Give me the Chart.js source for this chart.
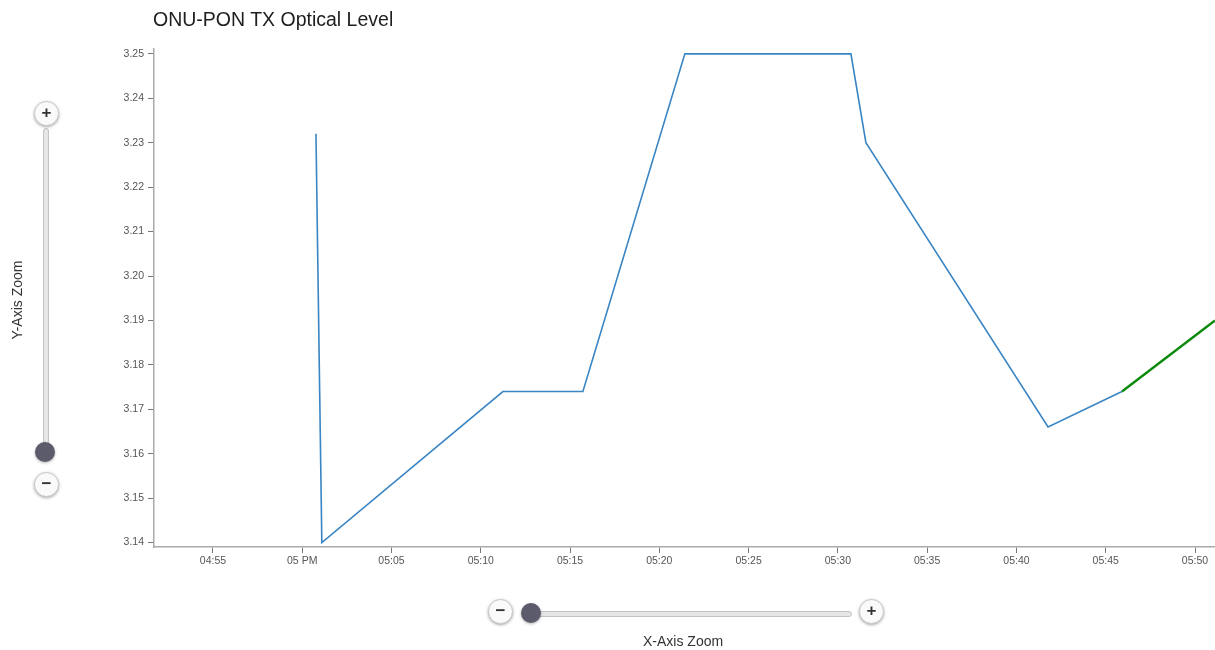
<!DOCTYPE html>
<html>
<head>
<meta charset="utf-8">
<script src="https://cdn.jsdelivr.net/npm/chart.js@4/dist/chart.umd.min.js"></script>
<style>
  body { margin: 0; background: #fff; font-family: "Liberation Sans", Arial, sans-serif; }
  #wrap { position: relative; width: 1215px; height: 650px; overflow: hidden; }
  #chart { position: absolute; left: 0; top: 0; }
  #title { position: absolute; left: 153px; top: 8px; font-size: 19.5px; color: #1e1e1e; }
  .btn { position: absolute; width: 23px; height: 23px; border-radius: 50%; background: #fafafa;
         border: 1px solid #c8c8c8; box-shadow: 0 1px 3px rgba(0,0,0,0.35); text-align: center;
         line-height: 22px; font-size: 17px; font-weight: bold; color: #333; }
  .track { position: absolute; background: #e6e6e6; border: 1px solid #c4c4c4; border-radius: 3px; }
  .thumb { position: absolute; width: 20px; height: 20px; border-radius: 50%; background: #5b5b6c;
           box-shadow: 0 1px 3px rgba(0,0,0,0.3); }
  .lbl { position: absolute; font-size: 14px; color: #333; white-space: nowrap; }
</style>
</head>
<body>
<div id="wrap">
  <canvas id="chart" width="1215" height="650"></canvas>
  <div id="title">ONU-PON TX Optical Level</div>

  <!-- y-axis zoom slider -->
  <div class="track" style="left:43px; top:128px; width:4px; height:324px;"></div>
  <div class="btn" style="left:34px; top:101px;">+</div>
  <div class="thumb" style="left:35px; top:442px;"></div>
  <div class="btn" style="left:34px; top:472px;">&minus;</div>
  <div class="lbl" style="left:-22px; top:292px; transform: rotate(-90deg);">Y-Axis Zoom</div>

  <!-- x-axis zoom slider -->
  <div class="track" style="left:530px; top:611px; width:320px; height:4px;"></div>
  <div class="btn" style="left:488px; top:599px;">&minus;</div>
  <div class="thumb" style="left:521px; top:603px;"></div>
  <div class="btn" style="left:859px; top:599px;">+</div>
  <div class="lbl" style="left:643px; top:633px;">X-Axis Zoom</div>
</div>
<script>
// x values are minutes after 4 PM
let xTicks = [55, 60, 65, 70, 75, 80, 85, 90, 95, 100, 105, 110];
let xTickLabels = ['04:55', '05 PM', '05:05', '05:10', '05:15', '05:20', '05:25', '05:30', '05:35', '05:40', '05:45', '05:50'];
let yTicks = [3.14, 3.15, 3.16, 3.17, 3.18, 3.19, 3.20, 3.21, 3.22, 3.23, 3.24, 3.25];

let blueTimes = [60.77, 61.10, 71.24, 75.72, 81.43, 90.73, 91.57, 101.77, 105.91];
let blueValues = [3.232, 3.140, 3.174, 3.174, 3.250, 3.250, 3.230, 3.166, 3.174];
let greenTimes = [105.91, 111.12];
let greenValues = [3.174, 3.190];

function toPoints(xs, ys) {
    return xs.map((x, i) => ({ x: x, y: ys[i] }));
}

const ctx = document.getElementById('chart').getContext('2d');
new Chart(ctx, {
    type: 'line',
    data: {
        datasets: [{
            data: toPoints(blueTimes, blueValues),
            borderColor: '#3a85c4',
            borderWidth: 1.6,
            pointRadius: 0,
            tension: 0
        }, {
            data: toPoints(greenTimes, greenValues),
            borderColor: '#0a8a0a',
            borderWidth: 2.4,
            pointRadius: 0,
            tension: 0
        }]
    },
    options: {
        responsive: false,
        animation: false,
        layout: { padding: { top: 49, right: 0, bottom: 0, left: 0 } },
        plugins: { legend: { display: false }, tooltip: { enabled: false } },
        scales: {
            x: {
                type: 'linear',
                min: 51.70,
                max: 111.12,
                afterBuildTicks: scale => { scale.ticks = xTicks.map(v => ({ value: v })); },
                afterFit: scale => { scale.height = 103; },
                grid: { drawOnChartArea: false, drawTicks: true, tickLength: 6, color: '#777' },
                border: { color: '#aaa', width: 1.5 },
                ticks: {
                    padding: 2,
                    maxRotation: 0,
                    autoSkip: false,
                    color: '#555',
                    font: { family: '"Liberation Sans", Arial, sans-serif', size: 10.5 },
                    callback: (v, i) => xTickLabels[i]
                }
            },
            y: {
                min: 3.139,
                max: 3.2511,
                afterBuildTicks: scale => { scale.ticks = yTicks.map(v => ({ value: v })); },
                afterFit: scale => { scale.width = 154; },
                grid: { drawOnChartArea: false, drawTicks: true, tickLength: 6, color: '#777' },
                border: { color: '#aaa', width: 1.5 },
                ticks: {
                    padding: 4,
                    autoSkip: false,
                    color: '#555',
                    font: { family: '"Liberation Sans", Arial, sans-serif', size: 10.5 },
                    callback: v => v.toFixed(2)
                }
            }
        }
    }
});
</script>
</body>
</html>
